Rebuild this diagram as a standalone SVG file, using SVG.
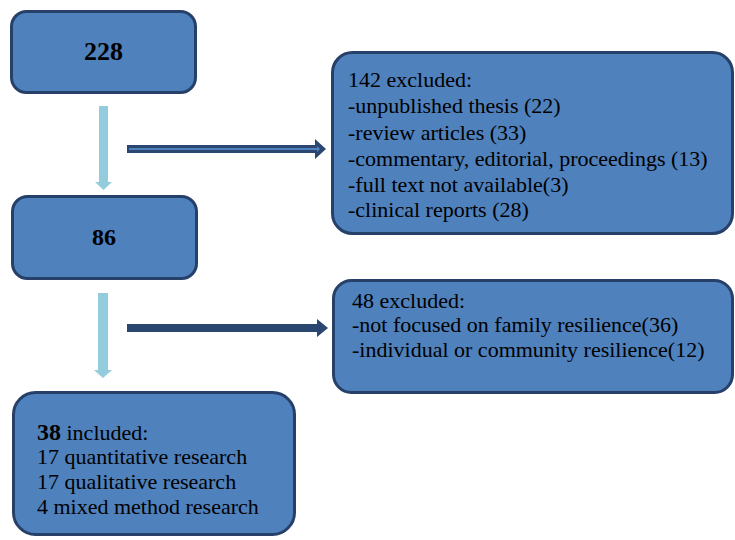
<svg xmlns="http://www.w3.org/2000/svg" width="735" height="540" viewBox="0 0 735 540">
<style>
.box{fill:#4f81bd;stroke:#26406a;stroke-width:3}
.t{font-size:22px;fill:#000}
.b{font-weight:bold;fill:#000}
.down{fill:#93cddd}
.right{fill:#2b4670}
</style>
<rect width="735" height="540" fill="#fff"/>
<g id="connectors">
<polygon class="down" points="99,106 108,106 108,182 112,182 103.5,190 95,182 99,182"/>
<polygon class="down" points="98,293 108,293 108,370 112,370 103,378 94,370 98,370"/>
<g id="arrow1">
<polygon class="right" points="127,145 315,145 315,139 326,149 315,159 315,153 127,153"/>
<polygon fill="#4f81bd" points="129,148 317,148 317,146 320,149 317,152 317,150 129,150"/>
</g>
<polygon class="right" points="127,324 317,324 317,319 328,328 317,337 317,332 127,332"/>
</g>
<g font-family="Liberation Serif, DejaVu Serif, serif">
<g id="n228">
<rect class="box" x="11.5" y="11.5" width="184" height="81" rx="15"/>
<text class="b" x="103.5" y="60" text-anchor="middle" font-size="26">228</text>
</g>
<g id="n86">
<rect class="box" x="12.5" y="196.5" width="184" height="82" rx="15"/>
<text class="b" x="104" y="245" text-anchor="middle" font-size="24">86</text>
</g>
<g id="excl142">
<rect class="box" x="332.5" y="52.5" width="400" height="181" rx="20"/>
<text class="t" x="348" y="87">142 excluded:</text>
<text class="t" x="348" y="113">-unpublished thesis (22)</text>
<text class="t" x="348" y="140">-review articles (33)</text>
<text class="t" x="348" y="166">-commentary, editorial, proceedings (13)</text>
<text class="t" x="348" y="192">-full text not available(3)</text>
<text class="t" x="348" y="217">-clinical reports (28)</text>
</g>
<g id="excl48">
<rect class="box" x="333.5" y="280.5" width="399" height="112" rx="18"/>
<text class="t" x="352" y="308">48 excluded:</text>
<text class="t" x="352" y="332">-not focused on family resilience(36)</text>
<text class="t" x="352" y="357">-individual or community resilience(12)</text>
</g>
<g id="incl38">
<rect class="box" x="13.5" y="392.5" width="281" height="142" rx="22"/>
<text class="t" x="37" y="440"><tspan font-weight="bold" font-size="24">38</tspan> included:</text>
<text class="t" x="37" y="464">17 quantitative research</text>
<text class="t" x="37" y="489">17 qualitative research</text>
<text class="t" x="37" y="514">4 mixed method research</text>
</g>
</g>
</svg>
